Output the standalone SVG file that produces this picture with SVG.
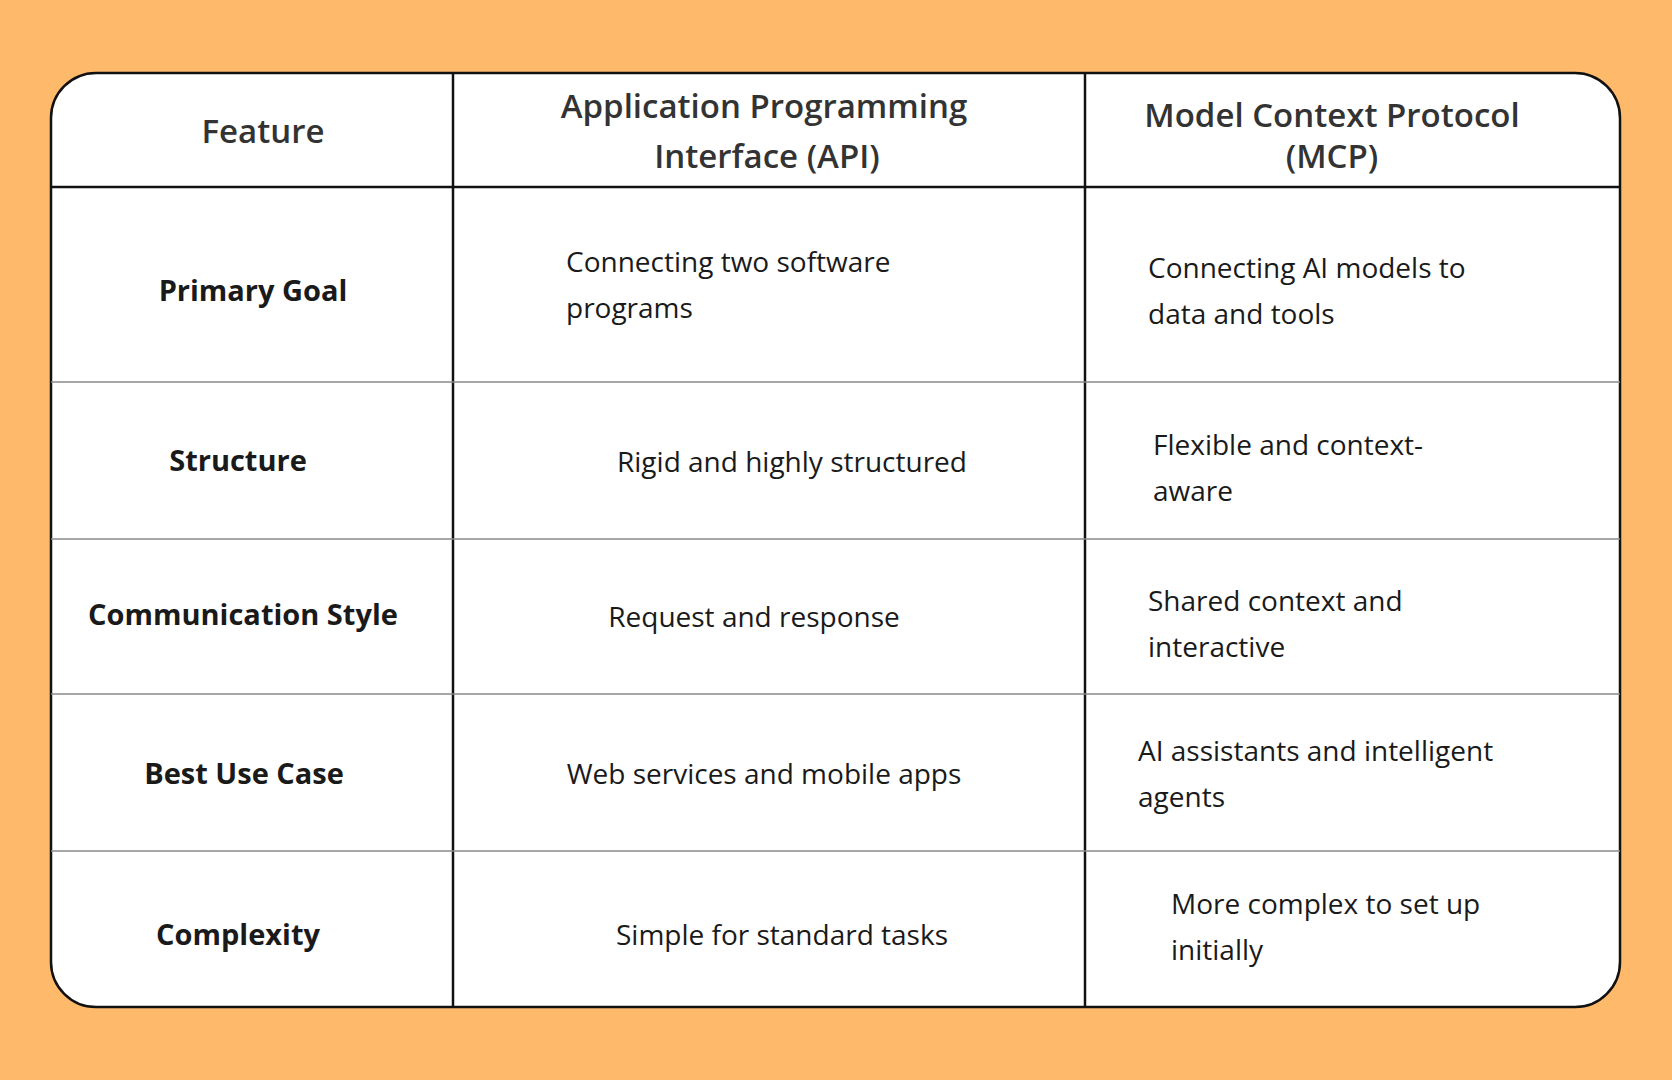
<svg xmlns="http://www.w3.org/2000/svg" width="1672" height="1080" viewBox="0 0 1672 1080">
<style>
text{font-family:"Open Sans","Liberation Sans",sans-serif;fill:#1a1a1a}
.h{font-size:33px;font-weight:600;fill:#333}
.f{font-size:29px;font-weight:700}
.b{font-size:28px;font-weight:400}
.c{text-anchor:middle}
.thin{stroke:#888;stroke-width:1.5}
.thick{stroke:#111;stroke-width:2.5}
</style>
<rect width="1672" height="1080" fill="#FFB96B"/>
<g id="table">
<rect x="51" y="73" width="1569" height="934" rx="45" fill="#fff" stroke="#111" stroke-width="2.5"/>
<line class="thick" x1="51" y1="187" x2="1620" y2="187"/>
<line class="thick" x1="453" y1="73" x2="453" y2="1007"/>
<line class="thick" x1="1085" y1="73" x2="1085" y2="1007"/>
<line class="thin" x1="51" y1="382" x2="1620" y2="382"/>
<line class="thin" x1="51" y1="539" x2="1620" y2="539"/>
<line class="thin" x1="51" y1="694" x2="1620" y2="694"/>
<line class="thin" x1="51" y1="851" x2="1620" y2="851"/>
</g>
<g id="header">
<text class="h c" x="263" y="143">Feature</text>
<text class="h c" x="764" y="118">Application Programming</text>
<text class="h c" x="767" y="168">Interface (API)</text>
<text class="h c" x="1332" y="127">Model Context Protocol</text>
<text class="h c" x="1332" y="168">(MCP)</text>
</g>
<g id="row1">
<text class="f c" x="253" y="301">Primary Goal</text>
<text class="b" x="566" y="272">Connecting two software</text>
<text class="b" x="566" y="318">programs</text>
<text class="b" x="1148" y="278">Connecting AI models to</text>
<text class="b" x="1148" y="324">data and tools</text>
</g>
<g id="row2">
<text class="f c" x="238" y="471">Structure</text>
<text class="b c" x="792" y="472">Rigid and highly structured</text>
<text class="b" x="1153" y="455">Flexible and context-</text>
<text class="b" x="1153" y="501">aware</text>
</g>
<g id="row3">
<text class="f c" x="243" y="625">Communication Style</text>
<text class="b c" x="754" y="627">Request and response</text>
<text class="b" x="1148" y="611">Shared context and</text>
<text class="b" x="1148" y="657">interactive</text>
</g>
<g id="row4">
<text class="f c" x="244" y="784">Best Use Case</text>
<text class="b c" x="764" y="784">Web services and mobile apps</text>
<text class="b" x="1138" y="761">AI assistants and intelligent</text>
<text class="b" x="1138" y="807">agents</text>
</g>
<g id="row5">
<text class="f c" x="238" y="945">Complexity</text>
<text class="b c" x="782" y="945">Simple for standard tasks</text>
<text class="b" x="1171" y="914">More complex to set up</text>
<text class="b" x="1171" y="960">initially</text>
</g>
</svg>
